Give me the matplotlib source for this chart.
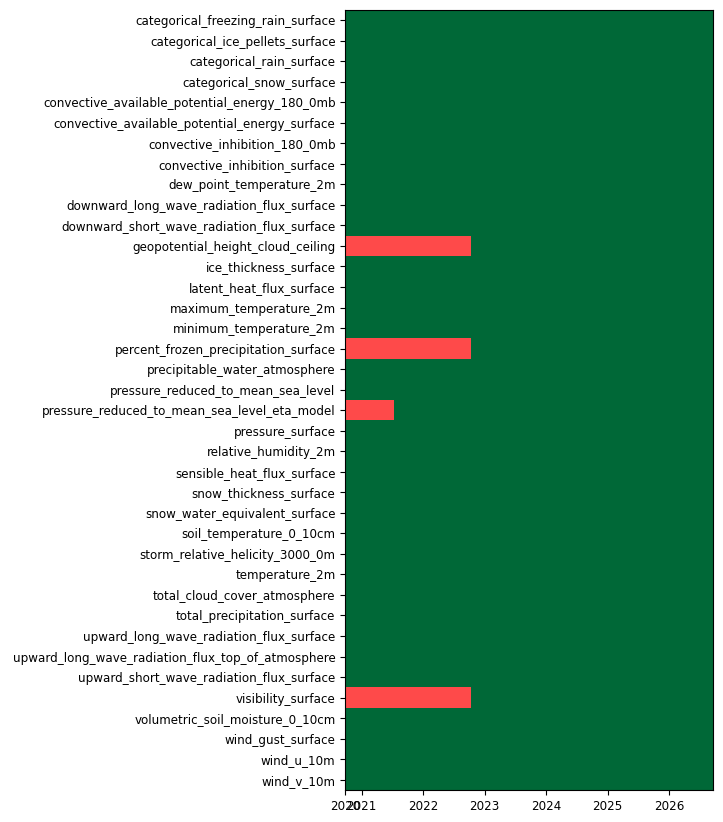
import numpy as np
import pandas as pd
import matplotlib
matplotlib.use('Agg')
import matplotlib.pyplot as plt
import matplotlib.dates as mdates

variables = [
    'categorical_freezing_rain_surface',
    'categorical_ice_pellets_surface',
    'categorical_rain_surface',
    'categorical_snow_surface',
    'convective_available_potential_energy_180_0mb',
    'convective_available_potential_energy_surface',
    'convective_inhibition_180_0mb',
    'convective_inhibition_surface',
    'dew_point_temperature_2m',
    'downward_long_wave_radiation_flux_surface',
    'downward_short_wave_radiation_flux_surface',
    'geopotential_height_cloud_ceiling',
    'ice_thickness_surface',
    'latent_heat_flux_surface',
    'maximum_temperature_2m',
    'minimum_temperature_2m',
    'percent_frozen_precipitation_surface',
    'precipitable_water_atmosphere',
    'pressure_reduced_to_mean_sea_level',
    'pressure_reduced_to_mean_sea_level_eta_model',
    'pressure_surface',
    'relative_humidity_2m',
    'sensible_heat_flux_surface',
    'snow_thickness_surface',
    'snow_water_equivalent_surface',
    'soil_temperature_0_10cm',
    'storm_relative_helicity_3000_0m',
    'temperature_2m',
    'total_cloud_cover_atmosphere',
    'total_precipitation_surface',
    'upward_long_wave_radiation_flux_surface',
    'upward_long_wave_radiation_flux_top_of_atmosphere',
    'upward_short_wave_radiation_flux_surface',
    'visibility_surface',
    'volumetric_soil_moisture_0_10cm',
    'wind_gust_surface',
    'wind_u_10m',
    'wind_v_10m',
]

# overall coverage window
start_date = '2020-09-26'
end_date = '2026-09-18'

# variables missing data from the start until a given date
missing_until = {
    'geopotential_height_cloud_ceiling': '2022-10-15',
    'percent_frozen_precipitation_surface': '2022-10-15',
    'pressure_reduced_to_mean_sea_level_eta_model': '2021-07-10',
    'visibility_surface': '2022-10-15',
}

green = '#006837'
red = '#fe4a4a'

start = mdates.date2num(pd.Timestamp(start_date))
end = mdates.date2num(pd.Timestamp(end_date))

fig = plt.figure(figsize=(7.23, 8.22), dpi=100)
ax = fig.add_axes([0.4775, 0.039, 0.5085, 0.949])

for i, var in enumerate(variables):
    if var in missing_until:
        m = mdates.date2num(pd.Timestamp(missing_until[var]))
        ax.barh(i, m - start, left=start, height=1.0, color=red, linewidth=0)
        ax.barh(i, end - m, left=m, height=1.0, color=green, linewidth=0)
    else:
        ax.barh(i, end - start, left=start, height=1.0, color=green, linewidth=0)

ax.set_ylim(len(variables) - 0.5, -0.5)
ax.set_xlim(start, end)
ax.set_yticks(range(len(variables)))
ax.set_yticklabels(variables, fontsize=8.6)

xt = [start] + [mdates.date2num(pd.Timestamp(f'{y}-01-01')) for y in range(2021, 2027)]
ax.set_xticks(xt)
ax.xaxis.set_major_formatter(mdates.DateFormatter('%Y'))
ax.tick_params(axis='x', labelsize=8.6)

fig.savefig('out.png', dpi=100)
